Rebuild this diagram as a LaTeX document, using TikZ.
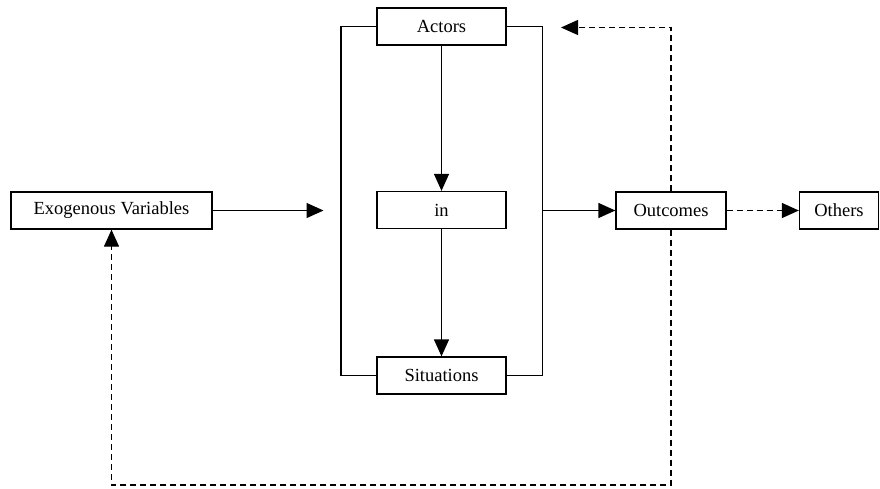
\documentclass[tikz,border=0pt]{standalone}
\usepackage{fontspec}
\setmainfont{Liberation Serif}
\usetikzlibrary{arrows.meta}
\begin{document}
\begin{tikzpicture}[x=1pt,y=-1pt,
  box/.style={draw, line width=1.3pt, minimum height=37pt, inner sep=0pt,
    font=\fontsize{18.5}{20}\selectfont, anchor=center},
  conn/.style={line width=1.3pt},
  arr/.style={conn, -{Triangle[length=17pt,width=15pt]}},
  dsh/.style={conn, dash pattern=on 6pt off 4pt}]
\useasboundingbox (0,0) rectangle (880,488);

% boxes
\node[box, minimum width=129pt] (actors) at (441.5,26.5) {Actors};
\node[box, minimum width=129pt] (in) at (441.5,210) {in};
\node[box, minimum width=129pt] (sit) at (441.5,375.5) {Situations};
\node[box, minimum width=201pt] (exo) at (111.5,210.5) {Exogenous Variables};
\node[box, minimum width=110pt] (out) at (671,210.5) {Outcomes};
\node[box, minimum width=79pt] (oth) at (839,210.5) {Others};

% bracket around the actors-in-situations block
\coordinate (bl) at (341,0);
\coordinate (br) at (542.5,0);
\draw[conn] (actors.west) -- (actors.west -| bl) -- (sit.west -| bl) -- (sit.west);
\draw[conn] (actors.east) -- (actors.east -| br) -- (sit.east -| br) -- (sit.east);

% vertical chain
\draw[arr] (actors) -- (in);
\draw[arr] (in) -- (sit);

% inputs and outputs
\coordinate (exoend) at (323.5,210.5);
\draw[arr] (exo) -- (exoend);
\draw[arr] (br |- out.west) -- (out.west);
\draw[arr, dash pattern=on 6pt off 4pt] (out) -- (oth);

% feedback loops
\coordinate (topend) at (561,27.5);
\coordinate (bottom) at (0,485);
\draw[dsh, -{Triangle[length=17pt,width=15pt]}]
  (out.north) -- (out.north |- topend) -- (topend);
\draw[dsh, -{Triangle[length=17pt,width=15pt]}]
  (out.south) -- (out.south |- bottom) -- (bottom -| exo.south) -- (exo.south);
\end{tikzpicture}
\end{document}
